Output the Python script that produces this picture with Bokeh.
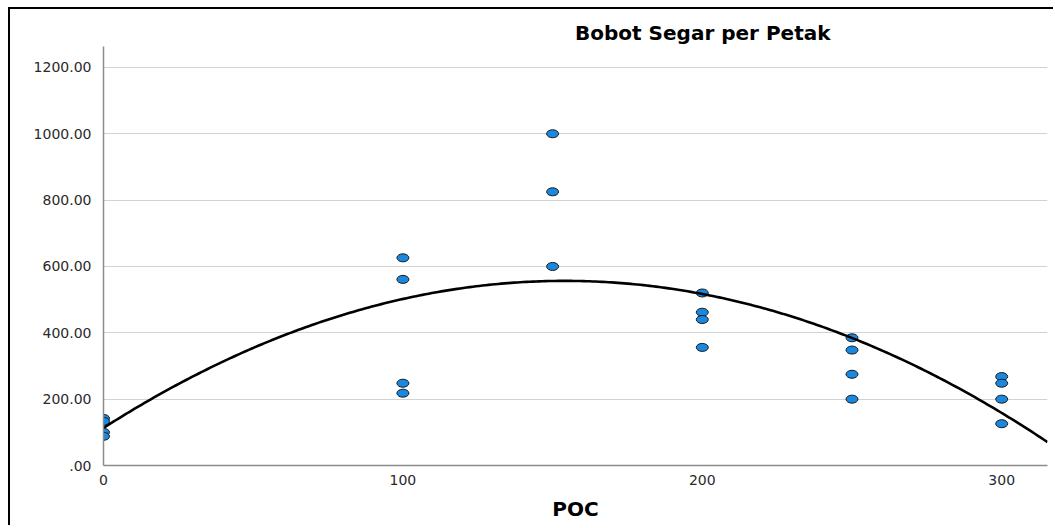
import numpy as np
from bokeh.plotting import figure
from bokeh.models import FixedTicker, ColumnDataSource, Range1d
from bokeh.embed import file_html
from bokeh.resources import INLINE

# ---- data ----
poc = [0, 0, 0, 0,
       100, 100, 100, 100,
       150, 150, 150,
       200, 200, 200, 200,
       250, 250, 250, 250,
       300, 300, 300, 300]
bobot = [142, 133, 100, 88,
         626, 561, 248, 218,
         1000, 825, 600,
         520, 462, 440, 356,
         385, 348, 275, 200,
         268, 248, 200, 126]

title_text = "Bobot Segar per Petak"
x_label = "POC"
x_ticks = [0, 100, 200, 300]
x_tick_labels = ["0", "100", "200", "300"]
y_ticks = [0, 200, 400, 600, 800, 1000, 1200]
y_tick_labels = [".00", "200.00", "400.00", "600.00", "800.00", "1000.00", "1200.00"]

# quadratic fit line (computed from the data)
coef = np.polyfit(poc, bobot, 2)
fit_x = np.linspace(0, 315.3, 300)
fit_y = np.polyval(coef, fit_x)

FONT = "DejaVu Sans"
W, H = 1045, 518

p = figure(width=W, height=H, output_backend="svg", toolbar_location=None,
           x_range=Range1d(0, 315.3), y_range=Range1d(0, 1263),
           min_border_left=93, min_border_right=8, min_border_top=37,
           min_border_bottom=62)
p.styles = {"border-left": "2px solid black", "border-top": "2px solid black",
            "margin-left": "8px", "margin-top": "7px"}
p.outline_line_color = None
p.background_fill_color = "white"
p.border_fill_color = "white"

# title (offset from the right edge of the plot frame)
p.title.text = title_text
p.title.align = "right"
p.title.offset = 217
p.title.standoff = 4
p.title.text_font = FONT
p.title.text_font_size = "20px"
p.title.text_font_style = "bold"
p.title.text_color = "black"

src = ColumnDataSource(dict(x=poc, y=bobot))
p.ellipse(x="x", y="y", width=12, height=8, width_units="screen", height_units="screen",
          source=src, fill_color="#1888e0", line_color="#1a1a1a", line_width=1)
p.line(fit_x, fit_y, line_color="black", line_width=2.6)

# axes
p.xaxis.ticker = FixedTicker(ticks=x_ticks)
p.xaxis.major_label_overrides = {t: l for t, l in zip(x_ticks, x_tick_labels)}
p.yaxis.ticker = FixedTicker(ticks=y_ticks)
p.yaxis.major_label_overrides = {t: l for t, l in zip(y_ticks, y_tick_labels)}
for ax in (p.xaxis, p.yaxis):
    ax.major_tick_line_color = None
    ax.minor_tick_line_color = None
    ax.axis_line_color = "#8c8c8c"
    ax.axis_line_width = 1.5
    ax.major_label_text_font = FONT
    ax.major_label_text_font_size = "14px"
    ax.major_label_text_color = "#2a2a2a"
p.yaxis.major_label_standoff = 6
p.xaxis.major_label_standoff = 3
p.xaxis.axis_label = x_label
p.xaxis.axis_label_text_font = FONT
p.xaxis.axis_label_text_font_size = "20px"
p.xaxis.axis_label_text_font_style = "bold"
p.xaxis.axis_label_text_color = "black"
p.xaxis.axis_label_standoff = 9

p.xgrid.grid_line_color = None
p.ygrid.ticker = FixedTicker(ticks=y_ticks)
p.ygrid.grid_line_color = "#d2d2d2"
p.ygrid.grid_line_width = 1.2

open("out.html", "w").write(file_html(p, INLINE))
